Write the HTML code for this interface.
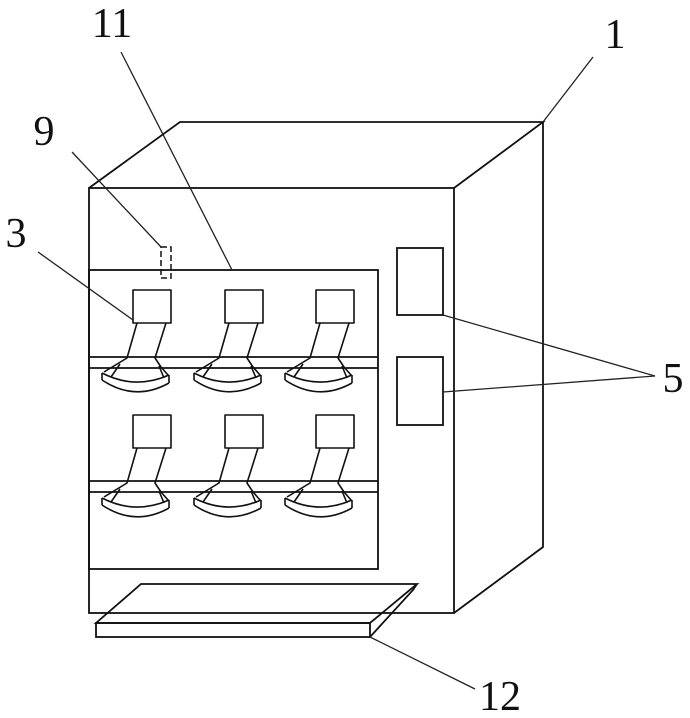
<!DOCTYPE html>
<html><head><meta charset="utf-8"><style>
html,body{margin:0;padding:0;background:#fff;}
svg{display:block;}
text{font-family:"Liberation Serif",serif;font-size:42px;fill:#111;text-anchor:middle;}
</style></head><body>
<svg width="690" height="718" viewBox="0 0 690 718" xmlns="http://www.w3.org/2000/svg">
<defs>
<g id="h" fill="none" stroke="#111" stroke-width="1.6" stroke-linejoin="round">
  <rect x="133" y="290" width="38" height="33"/>
  <path d="M137,323 L127,358 L104,372"/>
  <path d="M166,323 L155,358 L161,367 L168,375"/>
  <path d="M120,364 L111,377"/>
  <path d="M159,366 L164,378"/>
  <path d="M102,373 Q135,390 169,375"/>
  <path d="M102,380 Q135,402 169,383"/>
  <path d="M102,373 L102,380 M169,375 L169,383"/>
</g>
</defs>
<g fill="none" stroke="#111" stroke-width="1.8" stroke-linejoin="miter">
  <!-- main cabinet -->
  <rect x="89" y="188" width="365" height="425"/>
  <path d="M89,188 L180,122 L543,122 L454,188"/>
  <path d="M543,122 L543,547 L454,613"/>
  <!-- inner panel -->
  <rect x="89" y="270" width="289" height="299"/>
  <!-- shelves -->
  <path d="M89,357 H378 M89,368 H378 M89,481 H378 M89,492 H378"/>
  <!-- right boxes -->
  <rect x="397" y="248" width="46" height="67"/>
  <rect x="397" y="357" width="46" height="68"/>
  <!-- tray -->
  <path d="M96,623 L141,584 L417,584 L370,623 Z"/>
  <rect x="96" y="623" width="274" height="14"/>
  <path d="M370,637 L413,590 L417,584"/>
</g>
<!-- dashed sensor 9 -->
<rect x="161" y="247" width="10" height="31" fill="none" stroke="#111" stroke-width="1.5" stroke-dasharray="6,3"/>
<!-- holders -->
<use href="#h"/>
<use href="#h" transform="translate(92,0)"/>
<use href="#h" transform="translate(183,0)"/>
<use href="#h" transform="translate(0,125)"/>
<use href="#h" transform="translate(92,125)"/>
<use href="#h" transform="translate(183,125)"/>
<!-- leader lines -->
<g fill="none" stroke="#222" stroke-width="1.3">
  <path d="M121,52 L232,270"/>
  <path d="M72,152 L161,247"/>
  <path d="M38,252 L133,320"/>
  <path d="M593,57 L543,122"/>
  <path d="M443,315 L655,376 L443,392"/>
  <path d="M370,637 L475,689"/>
</g>
<!-- labels -->
<text x="112" y="37">11</text>
<text x="44" y="145">9</text>
<text x="16" y="247">3</text>
<text x="615" y="48">1</text>
<text x="673" y="392">5</text>
<text x="500" y="710">12</text>
</svg>
</body></html>
